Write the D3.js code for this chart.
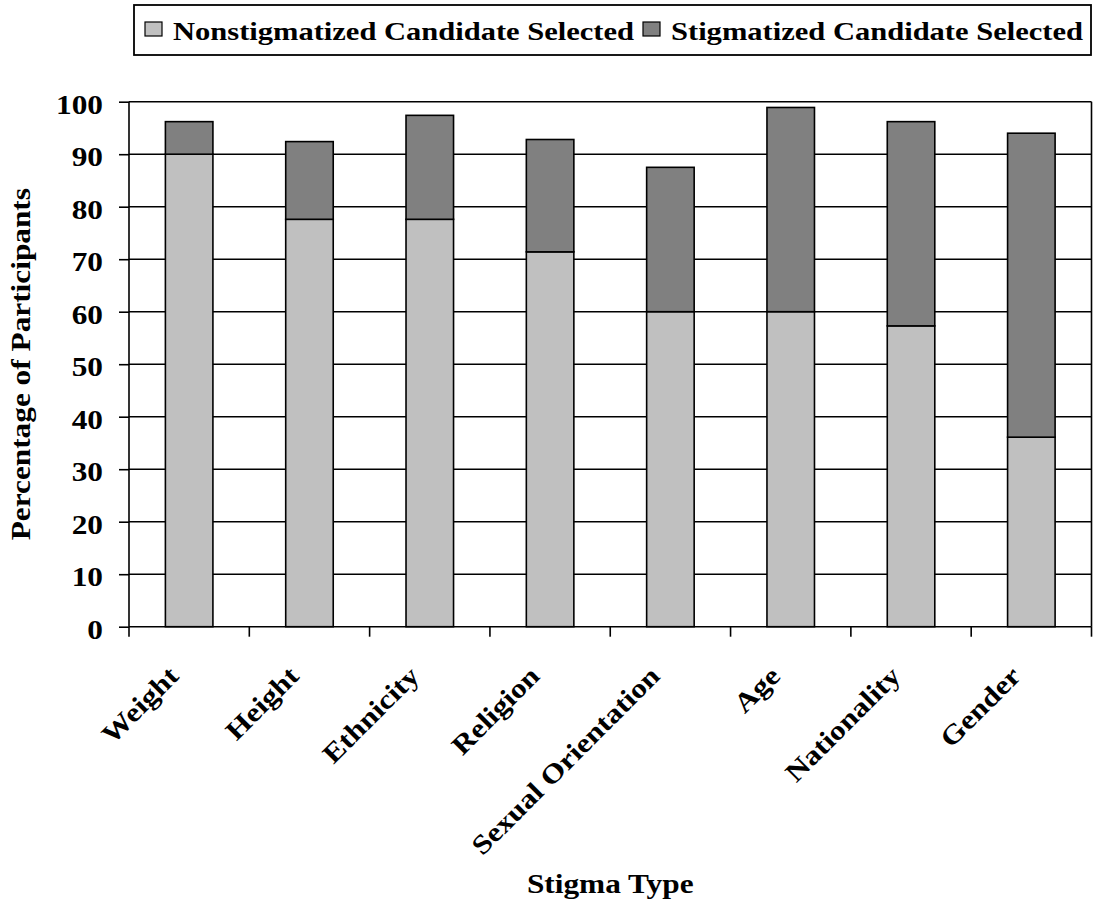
<!DOCTYPE html>
<html>
<head>
<meta charset="utf-8">
<script src="https://cdn.jsdelivr.net/npm/d3@7"></script>
<style>
  html, body { margin: 0; padding: 0; background: #fff; }
  svg text { font-family: "Liberation Serif", "Times New Roman", serif; font-weight: bold; fill: #000; }
</style>
</head>
<body>
<svg id="chart" width="1093" height="903"></svg>
<script>
// Stigma categories along the x axis
const categories = ["Weight", "Height", "Ethnicity", "Religion", "Sexual Orientation", "Age", "Nationality", "Gender"];
// Percentage choosing the nonstigmatized candidate
const nonstigmatized = [90.0, 77.6, 77.6, 71.4, 60.0, 60.0, 57.3, 36.1];
// Percentage choosing the stigmatized candidate (stacked on top)
const stigmatized = [6.2, 14.8, 19.8, 21.4, 27.5, 38.9, 38.9, 57.9];
const yTicks = [0, 10, 20, 30, 40, 50, 60, 70, 80, 90, 100];
const seriesNames = ["Nonstigmatized Candidate Selected", "Stigmatized Candidate Selected"];
const seriesColors = ["#c0c0c0", "#808080"];

const FONT = 27;        // label font size
const WIDEN = 1.16;     // glyphs are drawn slightly wide along their baseline

const svg = d3.select("#chart");
const plot = { left: 129, right: 1091.5, top: 101.7, bottom: 626.7 };

const x = d3.scaleBand().domain(categories).range([plot.left, plot.right]).paddingInner(0.605).paddingOuter(0.3025);
const band = d3.scaleBand().domain(categories).range([plot.left, plot.right]);
const y = d3.scaleLinear().domain([0, 100]).range([plot.bottom, plot.top]);

// Horizontal gridlines
svg.append("g").selectAll("line").data(yTicks.filter(d => d > 0)).join("line")
  .attr("x1", plot.left).attr("x2", plot.right)
  .attr("y1", d => y(d)).attr("y2", d => y(d))
  .attr("stroke", "#000").attr("stroke-width", 1.6);

// Right border of the plot area
svg.append("line").attr("x1", plot.right).attr("x2", plot.right)
  .attr("y1", y(100)).attr("y2", y(0)).attr("stroke", "#000").attr("stroke-width", 1.6);

// Stacked bars
const stackData = categories.map((c, i) => ({ cat: c, non: nonstigmatized[i], stig: stigmatized[i] }));
const stacked = d3.stack().keys(["non", "stig"])(stackData);
svg.append("g").selectAll("g").data(stacked).join("g")
  .attr("fill", (d, i) => seriesColors[i])
  .selectAll("rect").data(d => d).join("rect")
  .attr("x", d => x(d.data.cat))
  .attr("width", x.bandwidth())
  .attr("y", d => y(d[1]))
  .attr("height", d => y(d[0]) - y(d[1]))
  .attr("stroke", "#000").attr("stroke-width", 1.6);

// Y axis
const yAxis = svg.append("g").attr("transform", `translate(${plot.left},0)`)
  .call(d3.axisLeft(y).tickValues(yTicks).tickSize(10).tickFormat(d3.format("d")));
yAxis.selectAll("path, line").attr("stroke", "#000").attr("stroke-width", 1.6);
yAxis.select(".domain").attr("d", `M0,${plot.bottom}V${plot.top}`);
yAxis.selectAll("text")
  .attr("x", null).attr("dy", null)
  .attr("font-size", FONT).attr("font-family", null)
  .attr("transform", `translate(-26,11.5) scale(${WIDEN},1)`);

// X axis: line with ticks on category boundaries
const xAxisG = svg.append("g");
xAxisG.append("line").attr("x1", plot.left).attr("x2", plot.right)
  .attr("y1", plot.bottom).attr("y2", plot.bottom).attr("stroke", "#000").attr("stroke-width", 1.6);
const boundaries = categories.map(c => band(c)).concat([plot.right]);
xAxisG.selectAll("line.tick").data(boundaries).join("line").attr("class", "tick")
  .attr("x1", d => d).attr("x2", d => d)
  .attr("y1", plot.bottom).attr("y2", plot.bottom + 10)
  .attr("stroke", "#000").attr("stroke-width", 1.6);

// Rotated category labels, ending just left of each category centre
xAxisG.selectAll("text").data(categories).join("text")
  .attr("transform", d => `translate(${band(d) + band.bandwidth() / 2 - 9},${plot.bottom + 51}) rotate(-45) scale(${WIDEN},1)`)
  .attr("text-anchor", "end")
  .attr("font-size", FONT)
  .text(d => d);

// Axis titles
svg.append("text").attr("transform", `translate(30,${(plot.top + plot.bottom) / 2}) rotate(-90) scale(${WIDEN},1)`)
  .attr("text-anchor", "middle").attr("font-size", FONT).text("Percentage of Participants");
svg.append("text").attr("transform", `translate(${(plot.left + plot.right) / 2},893) scale(${WIDEN},1)`)
  .attr("text-anchor", "middle").attr("font-size", FONT).text("Stigma Type");

// Legend
const legend = svg.append("g");
legend.append("rect").attr("x", 134).attr("y", 5).attr("width", 957).attr("height", 50)
  .attr("fill", "#fff").attr("stroke", "#000").attr("stroke-width", 1.8);
const legendX = [145, 643];
const legendTextX = [173, 671];
const legendTextW = [461, 412];
seriesNames.forEach((name, i) => {
  legend.append("rect").attr("x", legendX[i]).attr("y", 22).attr("width", 17).attr("height", 14)
    .attr("fill", seriesColors[i]).attr("stroke", "#000").attr("stroke-width", 1.2);
  legend.append("text").attr("x", legendTextX[i]).attr("y", 39.5).attr("font-size", 26)
    .attr("textLength", legendTextW[i]).attr("lengthAdjust", "spacingAndGlyphs").text(name);
});
</script>
</body>
</html>
